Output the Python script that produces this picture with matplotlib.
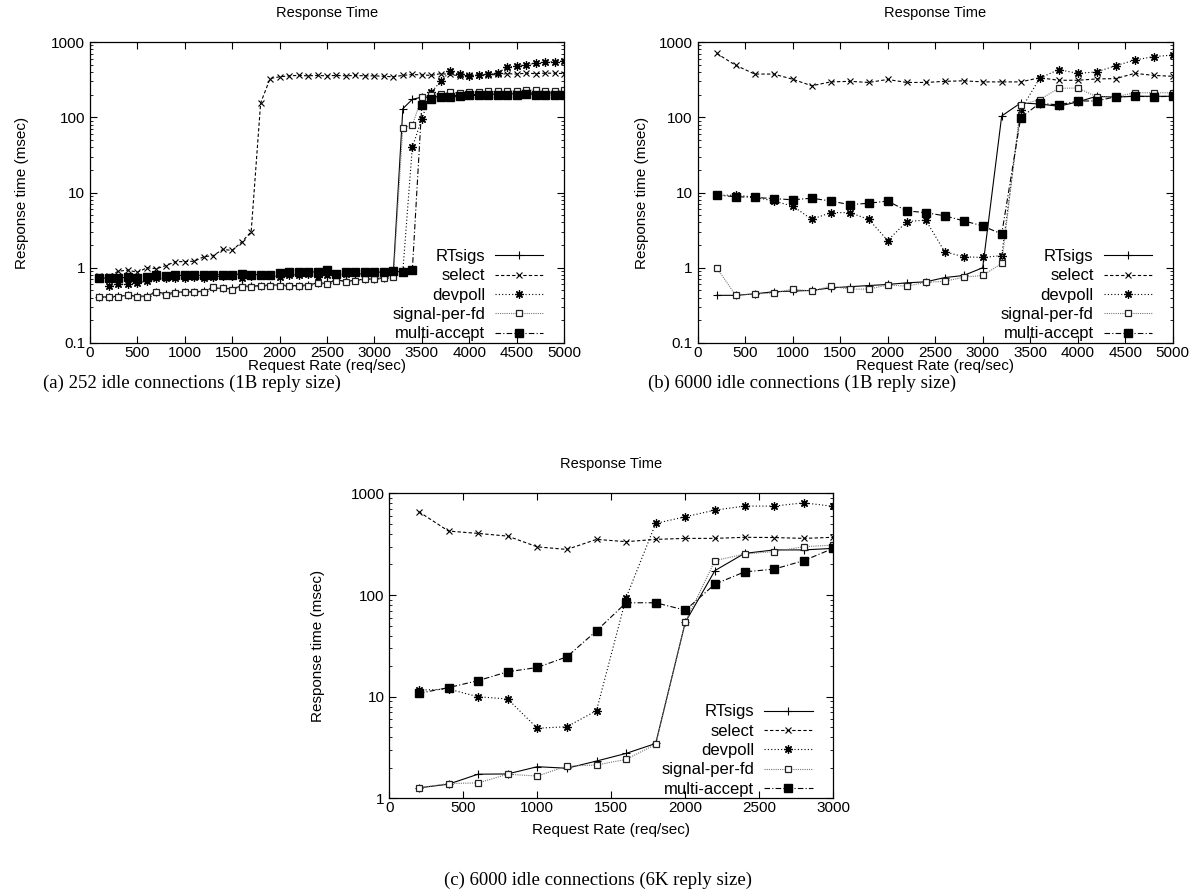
import matplotlib
matplotlib.use('Agg')
import matplotlib.pyplot as plt
from matplotlib.ticker import LogLocator, NullFormatter

plt.rcParams['font.family'] = ['Liberation Sans', 'DejaVu Sans']

# (a) 252 idle connections, 1B reply
rate_a = list(range(100, 5001, 100))
rate_a_dev = list(range(200, 5001, 100))
rtsigs_a = [0.41, 0.41, 0.42, 0.43, 0.42, 0.42, 0.48, 0.45, 0.47, 0.48,
            0.48, 0.49, 0.54, 0.53, 0.53, 0.57, 0.57, 0.58, 0.59, 0.59,
            0.58, 0.58, 0.59, 0.63, 0.62, 0.69, 0.66, 0.68, 0.71, 0.71,
            0.74, 0.88, 130, 173, 185, 185, 190, 195, 195, 200,
            200, 200, 205, 205, 205, 210, 210, 210, 210, 215]
select_a = [0.78, 0.78, 0.9, 0.93, 0.87, 1.0, 0.97, 1.07, 1.2, 1.21,
            1.22, 1.4, 1.45, 1.75, 1.7, 2.2, 3.0, 155, 327, 345,
            355, 360, 355, 360, 355, 360, 355, 360, 355, 355,
            350, 345, 360, 370, 365, 360, 380, 370, 355, 360,
            365, 365, 370, 380, 375, 385, 380, 385, 385, 380]
devpoll_a = [0.58, 0.6, 0.61, 0.63, 0.66, 0.72, 0.72, 0.74, 0.74,
             0.75, 0.73, 0.76, 0.77, 0.77, 0.74, 0.78, 0.79, 0.79, 0.76,
             0.8, 0.81, 0.82, 0.75, 0.8, 0.82, 0.83, 0.84, 0.82, 0.85,
             0.86, 0.88, 0.9, 40, 95, 215, 300, 410, 370, 355,
             360, 370, 390, 460, 480, 500, 520, 540, 550, 560]
sigfd_a = [0.41, 0.41, 0.41, 0.43, 0.41, 0.41, 0.47, 0.43, 0.46, 0.48,
           0.47, 0.48, 0.55, 0.53, 0.51, 0.56, 0.55, 0.57, 0.58, 0.58,
           0.57, 0.57, 0.58, 0.62, 0.60, 0.67, 0.65, 0.67, 0.70, 0.70,
           0.72, 0.75, 73, 78, 185, 200, 205, 215, 210, 215,
           215, 220, 220, 225, 225, 230, 230, 225, 220, 230]
multi_a = [0.73, 0.73, 0.73, 0.75, 0.74, 0.75, 0.79, 0.77, 0.79, 0.79,
           0.79, 0.79, 0.81, 0.81, 0.81, 0.83, 0.81, 0.81, 0.81, 0.85,
           0.87, 0.87, 0.88, 0.88, 0.92, 0.83, 0.88, 0.87, 0.87, 0.87,
           0.88, 0.90, 0.88, 0.92, 145, 173, 186, 185, 190, 195,
           195, 200, 195, 200, 200, 205, 200, 200, 195, 200]

# (b) 6000 idle connections, 1B reply
rate_b = list(range(200, 5001, 200))
rtsigs_b = [0.43, 0.43, 0.45, 0.48, 0.49, 0.50, 0.54, 0.56, 0.58, 0.60, 0.63, 0.65, 0.74,
            0.79, 1.0, 104, 155, 150, 140, 160, 190, 185, 190, 190, 190]
select_b = [705, 490, 375, 375, 320, 262, 295, 300, 290, 318, 290, 290, 300,
            305, 295, 295, 295, 335, 310, 310, 323, 326, 383, 360, 350]
devpoll_b = [9.2, 9.2, 8.7, 7.7, 6.6, 4.4, 5.4, 5.4, 4.4, 2.3, 4.1, 4.3, 1.63,
             1.4, 1.37, 1.45, 125, 330, 430, 383, 400, 485, 575, 640, 670]
sigfd_b = [1.0, 0.43, 0.45, 0.46, 0.52, 0.49, 0.57, 0.52, 0.52, 0.59, 0.57, 0.64, 0.66,
           0.75, 0.79, 1.14, 146, 172, 242, 245, 187, 187, 211, 212, 211]
multi_b = [9.2, 8.8, 8.6, 8.3, 8.0, 8.4, 7.7, 6.9, 7.2, 7.7, 5.7, 5.4, 4.9,
           4.2, 3.6, 2.8, 99, 153, 146, 164, 165, 187, 190, 187, 190]

# (c) 6000 idle connections, 6K reply
rate_c = list(range(200, 3001, 200))
rtsigs_c = [1.27, 1.38, 1.73, 1.74, 2.05, 1.98, 2.33, 2.77, 3.47, 54, 174, 257, 278, 278, 288]
select_c = [660, 426, 404, 380, 298, 281, 353, 335, 353, 361, 361, 370, 368, 361, 370]
devpoll_c = [11.6, 11.9, 10.0, 9.5, 4.9, 5.07, 7.3, 94, 507, 589, 685, 750, 750, 808, 746]
sigfd_c = [1.27, 1.4, 1.42, 1.73, 1.66, 2.08, 2.13, 2.42, 3.4, 54, 218, 253, 268, 299, 310]
multi_c = [10.8, 12.3, 14.4, 17.6, 19.4, 24.7, 44.5, 84, 84, 71, 128, 169, 180, 218, 288]

labels = ['RTsigs', 'select', 'devpoll', 'signal-per-fd', 'multi-accept']

STAR = (8, 2, 0)
styles = {
    'RTsigs': dict(color='black', ls='-', marker='+', ms=6, mew=0.8),
    'select': dict(color='black', ls=(0, (3, 2)), marker='x', ms=5, mew=0.8),
    'devpoll': dict(color='black', ls=(0, (1, 2)), marker=STAR, ms=6, mew=0.9),
    'signal-per-fd': dict(color='#777777', ls=(0, (1, 1)), marker='s', ms=5, mew=0.9,
                          mfc='white', mec='#222222'),
    'multi-accept': dict(color='black', ls=(0, (5, 2, 1, 2)), marker='s', ms=6,
                         mfc='black', mec='black'),
}

W, H = 1198, 892


def draw_panel(ax, series, xmax, ymin):
    for name, (xs, ys) in zip(labels, series):
        ax.plot(xs, ys, lw=0.8, label=name, **styles[name])
    ax.set_yscale('log')
    ax.set_xlim(0, xmax)
    ax.set_ylim(ymin, 1000)
    ax.set_xticks(list(range(0, xmax + 1, 500)))
    yt = [0.1, 1, 10, 100, 1000] if ymin < 1 else [1, 10, 100, 1000]
    ax.set_yticks(yt, labels=[('%g' % v) for v in yt])
    ax.yaxis.set_minor_locator(LogLocator(base=10, subs=range(2, 10)))
    ax.yaxis.set_minor_formatter(NullFormatter())
    ax.tick_params(which='both', direction='in', top=True, right=True, labelsize=11)
    ax.tick_params(axis='x', pad=2)
    ax.tick_params(which='major', length=5, width=0.8)
    ax.tick_params(which='minor', length=2.5, width=0.6)
    for s in ax.spines.values():
        s.set_linewidth(0.9)
    ax.set_title('Response Time', fontsize=10.5, pad=18)
    ax.set_xlabel('Request Rate (req/sec)', fontsize=11)
    ax.set_ylabel('Response time (msec)', fontsize=11)

    # legend sits just above the bottom axis, about 19 px in from the right
    w_px = ax.get_position().width * W
    ax.legend(loc='lower right', bbox_to_anchor=(1 - 19 / w_px, 0.0),
              frameon=False, markerfirst=False, fontsize=12,
              handlelength=2.9, labelspacing=0.26, borderaxespad=0.0,
              handletextpad=0.6, borderpad=0.1)


def place_labels(ax, xlab_y, ylab_x):
    # label positions given in figure pixels
    pos = ax.get_position()
    h = pos.height * H
    w = pos.width * W
    bottom = (1 - pos.y0) * H
    left = pos.x0 * W
    ax.xaxis.set_label_coords(0.5, -(xlab_y - bottom) / h)
    ax.xaxis.label.set_va('center')
    ax.yaxis.set_label_coords(-(left - ylab_x) / w, 0.5)
    ax.yaxis.label.set_va('center')


fig = plt.figure(figsize=(W / 100, H / 100), dpi=100)

ax_a = fig.add_axes([90 / W, 1 - 343 / H, 474 / W, 301 / H])
ax_b = fig.add_axes([697.7 / W, 1 - 343 / H, 475 / W, 301 / H])
ax_c = fig.add_axes([389.3 / W, 1 - 798.4 / H, 444 / W, 305 / H])

draw_panel(ax_a, [(rate_a, rtsigs_a), (rate_a, select_a), (rate_a_dev, devpoll_a),
                  (rate_a, sigfd_a), (rate_a, multi_a)], 5000, 0.1)
draw_panel(ax_b, [(rate_b, rtsigs_b), (rate_b, select_b), (rate_b, devpoll_b),
                  (rate_b, sigfd_b), (rate_b, multi_b)], 5000, 0.1)
draw_panel(ax_c, [(rate_c, rtsigs_c), (rate_c, select_c), (rate_c, devpoll_c),
                  (rate_c, sigfd_c), (rate_c, multi_c)], 3000, 1)

place_labels(ax_a, 366, 22)
place_labels(ax_b, 366, 642)
place_labels(ax_c, 830, 318)

cap = dict(family=['Liberation Serif', 'DejaVu Serif'], fontsize=13.5, ha='center', va='center')
fig.text(192 / W, 1 - 383 / H, '(a) 252 idle connections (1B reply size)', **cap)
fig.text(802 / W, 1 - 383 / H, '(b) 6000 idle connections (1B reply size)', **cap)
fig.text(598 / W, 1 - 880 / H, '(c) 6000 idle connections (6K reply size)', **cap)

fig.savefig('out.png', dpi=100)
